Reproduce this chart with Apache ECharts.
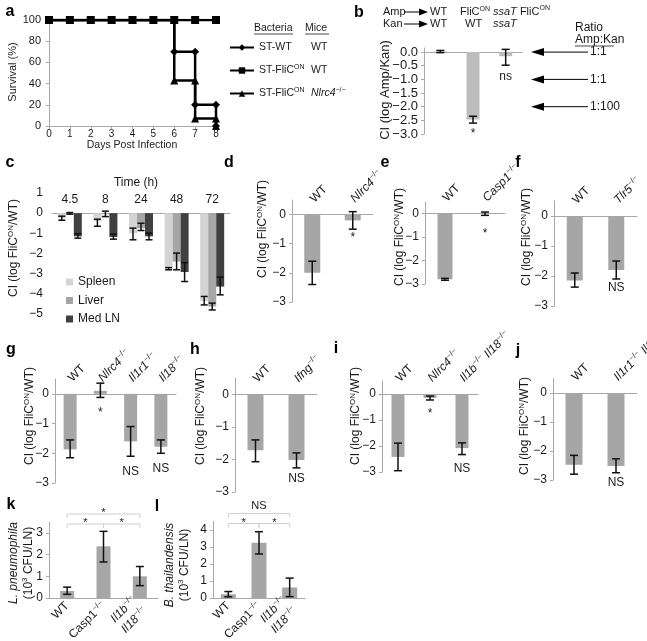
<!DOCTYPE html>
<html>
<head>
<meta charset="utf-8">
<script src="https://cdn.jsdelivr.net/npm/echarts@6/dist/echarts.min.js"></script>
<style>
html, body { margin: 0; padding: 0; background: #fff; }
#fig { width: 647px; height: 641px; }
</style>
</head>
<body>
<div id="fig"></div>
<script>
// ---------- data ----------
// a: survival (%), step curves as [day, %] points
const aWT_x = [0, 1, 2, 3, 4, 5, 6, 6, 7, 7, 8, 8];
const aWT_y = [100, 100, 100, 100, 100, 100, 100, 70, 70, 20, 20, 0];
const aOn_x = [0, 1, 2, 3, 4, 5, 6, 7, 8];
const aOn_y = [100, 100, 100, 100, 100, 100, 100, 100, 100];
const aNl_x = [0, 1, 2, 3, 4, 5, 6, 6, 7, 7, 8, 8];
const aNl_y = [100, 100, 100, 100, 100, 100, 100, 43, 43, 7, 7, 0];
const aBact = ['ST-WT', 'ST-FliC', 'ST-FliC'];
const aMice = ['WT', 'WT', 'Nlrc4'];

// b: CI (log Amp/Kan)
const bAmp = ['WT', 'FliC^[ON]', '_ssaT_ FliC^[ON]'];
const bKan = ['WT', 'WT', '_ssaT_'];
const bMean = [0.02, -2.47, -0.15];
const bLow = [-0.02, -2.6, -0.48];
const bHigh = [0.06, -2.35, 0.1];
const bNote = ['', '*', 'ns'];
const bTicks = [0, -0.5, -1, -1.5, -2, -2.5, -3];
const bRatioAt = [0, -1, -2];
const bRatio = ['1:1', '1:1', '1:100'];

// c: time course per organ
const cTimes = ['4.5', '8', '24', '48', '72'];
const cSpleen = [-0.25, -0.4, -1.0, -2.75, -4.35];
const cSpleenLo = [-0.35, -0.65, -1.32, -2.81, -4.55];
const cSpleenHi = [-0.15, -0.3, -0.74, -2.7, -4.13];
const cLiver = [-0.02, -0.05, -0.75, -2.4, -4.63];
const cLiverLo = [-0.05, -0.17, -0.86, -2.81, -4.8];
const cLiverHi = [0.03, 0.1, -0.5, -1.98, -4.46];
const cLN = [-1.15, -1.18, -1.15, -2.92, -3.64];
const cLNLo = [-1.24, -1.29, -1.32, -3.39, -4.05];
const cLNHi = [-1.02, -1.04, -0.99, -2.45, -3.17];

// d - j: CI (log FliC-ON / WT)
const dCats = ['WT', '_Nlrc4_^[−/−]'];
const dMean = [-2.0, -0.2];
const dLow = [-2.4, -0.5];
const dHigh = [-1.6, 0.1];
const dNote = ['', '*'];

const eCats = ['WT', '_Casp1_^[−/−]'];
const eMean = [-2.8, 0.0];
const eLow = [-2.84, -0.07];
const eHigh = [-2.76, 0.07];
const eNote = ['', '*'];

const fCats = ['WT', '_Tlr5_^[−/−]'];
const fMean = [-2.15, -1.8];
const fLow = [-2.37, -2.1];
const fHigh = [-1.9, -1.5];
const fNote = ['', 'NS'];

const gCats = ['WT', '_Nlrc4_^[−/−]', '_Il1r1_^[−/−]', '_Il18_^[−/−]'];
const gMean = [-1.87, 0.1, -1.6, -1.78];
const gLow = [-2.15, -0.12, -2.1, -2.0];
const gHigh = [-1.55, 0.36, -1.1, -1.55];
const gNote = ['', '*', 'NS', 'NS'];

const hCats = ['WT', '_Ifng_^[−/−]'];
const hMean = [-1.72, -2.02];
const hLow = [-2.07, -2.26];
const hHigh = [-1.4, -1.8];
const hNote = ['', 'NS'];

const iCats = ['WT', '_Nlrc4_^[−/−]', '_Il1b_^[−/−] _Il18_^[−/−]'];
const iMean = [-2.42, -0.15, -2.08];
const iLow = [-2.95, -0.23, -2.33];
const iHigh = [-1.89, -0.08, -1.88];
const iNote = ['', '*', 'NS'];

const jCats = ['WT', '_Il1r1_^[−/−] _Il18_^[−/−]'];
const jMean = [-2.47, -2.52];
const jLow = [-2.8, -2.75];
const jHigh = [-2.15, -2.27];
const jNote = ['', 'NS'];

const ciTicks = [0, -1, -2, -3];

// k, l: bacterial burden (10^3 CFU/LN)
const klCats = ['WT', 'Casp1^[−/−]', '_Il1b_^[−/−]\n_Il18_^[−/−]'];
const kMean = [0.32, 2.38, 1.0];
const kLow = [0.17, 1.66, 0.57];
const kHigh = [0.5, 3.07, 1.45];
const kTicks = [0, 1, 2, 3];
const kSig = [[0, 2, '*', 1], [0, 1, '*', 0], [1, 2, '*', 0]];
const lMean = [0.22, 3.25, 0.62];
const lLow = [0.07, 2.59, 0.08];
const lHigh = [0.38, 3.9, 1.17];
const lTicks = [0, 1, 2, 3, 4];
const lSig = [[0, 2, 'NS', 1], [0, 1, '*', 0], [1, 2, '*', 0]];

// ---------- helpers ----------
const FONT = '"Liberation Sans", Arial, sans-serif';
const INK = '#1a1a1a';
const AX = '#a8a8a8';
const BAR = '#a6a6a6';

// _x_ -> italic, ^[x] -> superscript
function mk(s) {
  return s.replace(/_([^_]+)_/g, '{i|$1}').replace(/\^\[([^\]]+)\]/g, '{s|$1}');
}
function minus(v) { return String(v).replace('-', '\u2212'); }

function RICH(fs) {
  return {
    i: { fontStyle: 'italic', fontSize: fs, fontFamily: FONT, color: INK, lineHeight: fs + 3 },
    s: { fontSize: Math.round(fs * 0.66), fontFamily: FONT, color: INK, verticalAlign: 'top' }
  };
}
function GRICH(fs) {
  return {
    i: { fontStyle: 'italic', fontSize: fs, fontFamily: FONT, fill: INK, lineHeight: fs + 3 },
    s: { fontSize: Math.round(fs * 0.66), fontFamily: FONT, fill: INK, verticalAlign: 'top' }
  };
}

const grids = [], xAxes = [], yAxes = [], series = [], graphics = [];

function addGrid(g) {
  grids.push(Object.assign({ containLabel: false, outerBoundsMode: 'none' }, g));
  return grids.length - 1;
}
function valAxis(gi, min, max, ticks, fs, extra) {
  return Object.assign({
    type: 'value', gridIndex: gi, min: min, max: max,
    splitLine: { show: false },
    axisLine: { show: true, lineStyle: { color: AX, width: 1 } },
    axisTick: { show: true, length: 3, lineStyle: { color: AX }, customValues: ticks },
    axisLabel: { customValues: ticks, fontSize: fs, fontFamily: FONT, color: INK, margin: 6, formatter: minus }
  }, extra || {});
}
// category axis on the zero line; slanted labels sit just above it
function catTop(gi, cats, zeroDrop) {
  return {
    type: 'category', gridIndex: gi, position: 'top', data: cats,
    axisLine: { onZero: true, lineStyle: { color: AX } },
    axisTick: { show: false },
    axisLabel: { interval: 0, rotate: 45, margin: 14 - zeroDrop, fontSize: 12, fontFamily: FONT, color: INK,
      lineHeight: 15, rich: RICH(12), formatter: v => mk(v) }
  };
}
function vname(x, y, text, fs) {
  return {
    type: 'text', x: x, y: y, rotation: Math.PI / 2,
    style: { text: mk(text), fontSize: fs || 12, fontFamily: FONT, fill: INK, align: 'center',
      verticalAlign: 'middle', lineHeight: 15, rich: GRICH(fs || 12) }
  };
}
function letter(x, y, t) {
  return { type: 'text', x: x, y: y, style: { text: t, font: 'bold 16px ' + FONT, fill: '#000', align: 'center', verticalAlign: 'middle' } };
}
function plain(x, y, t, fs, align) {
  return { type: 'text', x: x, y: y, style: { text: mk(t), fontSize: fs, fontFamily: FONT, fill: INK,
    align: align || 'left', verticalAlign: 'middle', lineHeight: fs + 2, rich: GRICH(fs) } };
}

function errBar(offset, cap, notes, gap) {
  return function (params, api) {
    const i = api.value(0);
    const hi = api.coord([i, api.value(2)]);
    const lo = api.coord([i, api.value(1)]);
    const x = hi[0] + offset;
    const st = { stroke: '#111', lineWidth: 1.5 };
    const kids = [
      { type: 'line', shape: { x1: x, y1: hi[1], x2: x, y2: lo[1] }, style: st },
      { type: 'line', shape: { x1: x - cap, y1: hi[1], x2: x + cap, y2: hi[1] }, style: st },
      { type: 'line', shape: { x1: x - cap, y1: lo[1], x2: x + cap, y2: lo[1] }, style: st }
    ];
    const note = notes ? notes[params.dataIndex] : '';
    if (note) {
      const bottom = Math.max(lo[1], hi[1]);
      kids.push({ type: 'text', x: x, y: bottom + gap,
        style: { text: note, align: 'center', verticalAlign: 'top', font: '12px ' + FONT, fill: INK } });
    }
    return { type: 'group', children: kids };
  };
}
function errSeries(gi, n, lo, hi, offset, cap, notes, gap) {
  const data = [];
  for (let i = 0; i < n; i++) data.push([i, lo[i], hi[i]]);
  return { type: 'custom', xAxisIndex: gi, yAxisIndex: gi, data: data, z: 5, silent: true,
    renderItem: errBar(offset, cap, notes, gap) };
}

function sigRender(list) {
  return function (params, api) {
    const d = list[params.dataIndex];
    const cs = params.coordSys;
    const x1 = api.coord([d[0], 0])[0], x2 = api.coord([d[1], 0])[0];
    const y = d[3] ? cs.y - 8 : cs.y + 2;
    const star = d[2] === '*';
    return { type: 'group', children: [
      { type: 'polyline', shape: { points: [[x1, y + 4], [x1, y], [x2, y], [x2, y + 4]] },
        style: { stroke: '#cfcfcf', lineWidth: 1, fill: null } },
      { type: 'text', x: (x1 + x2) / 2, y: star ? y - 1 : y - 2,
        style: { text: d[2], align: 'center', verticalAlign: star ? 'middle' : 'bottom', font: '11px ' + FONT, fill: INK } }
    ] };
  };
}

// ---------- panel a ----------
const gA = addGrid({ left: 49, top: 20, width: 167, height: 106 });
xAxes.push({ type: 'value', gridIndex: gA, min: 0, max: 8, interval: 1, splitLine: { show: false },
  axisLine: { lineStyle: { color: AX } }, axisTick: { show: true, length: 3, lineStyle: { color: AX } },
  axisLabel: { fontSize: 10, fontFamily: FONT, color: INK, margin: 3 } });
yAxes.push({ type: 'value', gridIndex: gA, min: 0, max: 100, interval: 20, splitLine: { show: false },
  axisLine: { show: true, lineStyle: { color: AX } }, axisTick: { show: true, length: 3, lineStyle: { color: AX } },
  axisLabel: { fontSize: 11, fontFamily: FONT, color: INK, margin: 8 } });
const zip = (xs, ys) => xs.map((x, i) => [x, ys[i]]);
const aNames = ['a0', 'a1', 'a2'];
const aLine = { color: '#000', width: 2.5 };
series.push({ name: aNames[0], type: 'line', xAxisIndex: gA, yAxisIndex: gA, data: zip(aWT_x, aWT_y),
  symbol: 'diamond', symbolSize: 8, showAllSymbol: true, lineStyle: aLine, itemStyle: { color: '#000' }, z: 3 });
series.push({ name: aNames[2], type: 'line', xAxisIndex: gA, yAxisIndex: gA, data: zip(aNl_x, aNl_y),
  symbol: 'triangle', symbolSize: 8, showAllSymbol: true, lineStyle: aLine, itemStyle: { color: '#000' }, z: 3 });
series.push({ name: aNames[1], type: 'line', xAxisIndex: gA, yAxisIndex: gA, data: zip(aOn_x, aOn_y),
  symbol: 'rect', symbolSize: 8, showAllSymbol: true, lineStyle: aLine, itemStyle: { color: '#000' }, z: 4 });
graphics.push(letter(10, 12, 'a'));
graphics.push(vname(13, 72, 'Survival (%)', 11));
graphics.push(plain(132, 145, 'Days Post Infection', 10.5, 'center'));
graphics.push(plain(254, 28, 'Bacteria', 10.5));
graphics.push(plain(305, 28, 'Mice', 10.5));
graphics.push({ type: 'line', shape: { x1: 254, y1: 34, x2: 293, y2: 34 }, style: { stroke: INK, lineWidth: 0.8 } });
graphics.push({ type: 'line', shape: { x1: 305, y1: 34, x2: 329, y2: 34 }, style: { stroke: INK, lineWidth: 0.8 } });

// ---------- panel b ----------
const gB = addGrid({ left: 424, top: 48, width: 98, height: 86 });
xAxes.push({ type: 'category', gridIndex: gB, position: 'top', data: bAmp,
  axisLine: { onZero: true, lineStyle: { color: AX } }, axisTick: { show: false }, axisLabel: { show: false } });
yAxes.push(valAxis(gB, -3, 0.15, bTicks, 13, { axisLabel: { customValues: bTicks, fontSize: 13, fontFamily: FONT,
  color: INK, margin: 6, formatter: v => minus(v.toFixed(1)) } }));
series.push({ type: 'bar', xAxisIndex: gB, yAxisIndex: gB, data: bMean, barWidth: 13,
  itemStyle: { color: '#bdbdbd' }, silent: true });
series.push(errSeries(gB, 3, bLow, bHigh, 0, 4, bNote, 5));
series.push({ type: 'custom', xAxisIndex: gB, yAxisIndex: gB, data: bRatioAt.map(v => [0, v]), silent: true,
  renderItem: function (params, api) {
    const cs = params.coordSys;
    const y = api.coord([0, api.value(1)])[1];
    const x0 = cs.x + cs.width + 9;
    return { type: 'group', children: [
      { type: 'polygon', shape: { points: [[x0, y], [x0 + 13, y - 4], [x0 + 13, y + 4]] }, style: { fill: '#000' } },
      { type: 'line', shape: { x1: x0 + 13, y1: y, x2: x0 + 57, y2: y }, style: { stroke: '#000', lineWidth: 1 } },
      { type: 'text', x: x0 + 59, y: y, style: { text: bRatio[params.dataIndex], align: 'left',
        verticalAlign: 'middle', font: '12px ' + FONT, fill: INK } }
    ] };
  } });
graphics.push(letter(359, 13, 'b'));
graphics.push(vname(385, 90, 'CI (log Amp/Kan)', 13));
graphics.push(plain(383, 12, 'Amp', 11));
graphics.push(plain(383, 24, 'Kan', 11));
[12, 24].forEach(y => {
  graphics.push({ type: 'line', shape: { x1: 404, y1: y, x2: 420, y2: y }, style: { stroke: '#000', lineWidth: 1 } });
  graphics.push({ type: 'polygon', shape: { points: [[428, y], [419, y - 3.5], [419, y + 3.5]] }, style: { fill: '#000' } });
});
// genotype header rows over the three bars
const bRowX = [430, 460, 493];
bAmp.forEach((t, k) => graphics.push(plain(bRowX[k], 12, t, 11, 'left')));
const bRow2X = [430, 465, 493];
bKan.forEach((t, k) => graphics.push(plain(bRow2X[k], 24, t, 11, 'left')));
graphics.push(plain(575, 28, 'Ratio', 12));
graphics.push(plain(575, 40, 'Amp:Kan', 12));
graphics.push({ type: 'line', shape: { x1: 575, y1: 46, x2: 614, y2: 46 }, style: { stroke: INK, lineWidth: 0.8 } });

// ---------- panel c ----------
const gC = addGrid({ left: 52, top: 193, width: 178, height: 121 });
xAxes.push({ type: 'category', gridIndex: gC, position: 'top', data: cTimes, offset: -121 / 6,
  axisLine: { onZero: false, lineStyle: { color: AX } }, axisTick: { show: false },
  axisLabel: { interval: 0, margin: 7, align: 'center', verticalAlign: 'bottom', fontSize: 12, fontFamily: FONT, color: INK } });
yAxes.push({ type: 'value', gridIndex: gC, min: -5, max: 1, interval: 1, splitLine: { show: false },
  axisLine: { show: false }, axisTick: { show: false },
  axisLabel: { fontSize: 12, fontFamily: FONT, color: INK, margin: 9, formatter: minus } });
const cCols = ['#d4d4d4', '#a6a6a6', '#404040'];
const cNames = ['Spleen', 'Liver', 'Med LN'];
[cSpleen, cLiver, cLN].forEach((d, k) => {
  series.push({ name: cNames[k], type: 'bar', xAxisIndex: gC, yAxisIndex: gC, data: d, barWidth: 8,
    barGap: '0%', itemStyle: { color: cCols[k] }, silent: true });
});
series.push(errSeries(gC, 5, cSpleenLo, cSpleenHi, -8, 3.5, null, 0));
series.push(errSeries(gC, 5, cLiverLo, cLiverHi, 0, 3.5, null, 0));
series.push(errSeries(gC, 5, cLNLo, cLNHi, 8, 3.5, null, 0));
graphics.push(letter(10, 163, 'c'));
graphics.push(plain(136, 183, 'Time (h)', 12, 'center'));
graphics.push(vname(14, 248, 'CI (log FliC^[ON]/WT)'));

// ---------- panels d - j ----------
const ciPanels = [
  { L: 'd', at: [229, 163], grid: { left: 292, top: 200, width: 81, height: 102 }, cats: dCats, mean: dMean, lo: dLow, hi: dHigh, note: dNote, bw: 16, gap: 3, name: [263, 229] },
  { L: 'e', at: [385, 163], grid: { left: 425, top: 202, width: 80, height: 82 }, cats: eCats, mean: eMean, lo: eLow, hi: eHigh, note: eNote, bw: 15, gap: 12, name: [400, 237] },
  { L: 'f', at: [518, 163], grid: { left: 554, top: 201, width: 83, height: 105 }, cats: fCats, mean: fMean, lo: fLow, hi: fHigh, note: fNote, bw: 16, gap: 3, name: [527, 237] },
  { L: 'g', at: [11, 350], grid: { left: 55, top: 379, width: 121, height: 104 }, cats: gCats, mean: gMean, lo: gLow, hi: gHigh, note: gNote, bw: 13, gap: 9, name: [30, 416] },
  { L: 'h', at: [195, 350], grid: { left: 235, top: 378, width: 82, height: 114 }, cats: hCats, mean: hMean, lo: hLow, hi: hHigh, note: hNote, bw: 16, gap: 5, name: [201, 416] },
  { L: 'i', at: [336, 349], grid: { left: 382, top: 381, width: 96, height: 91 }, cats: iCats, mean: iMean, lo: iLow, hi: iHigh, note: iNote, bw: 13, gap: 8, name: [356, 416] },
  { L: 'j', at: [518, 351], grid: { left: 553, top: 378.5, width: 84, height: 101.5 }, cats: jCats, mean: jMean, lo: jLow, hi: jHigh, note: jNote, bw: 17, gap: 4, name: [525, 426] }
];
ciPanels.forEach(p => {
  const gi = addGrid(p.grid);
  xAxes.push(catTop(gi, p.cats, p.grid.height / 3.5 * 0.5));
  yAxes.push(valAxis(gi, -3, 0.5, ciTicks, 12));
  series.push({ type: 'bar', xAxisIndex: gi, yAxisIndex: gi, data: p.mean, barWidth: p.bw,
    itemStyle: { color: BAR }, silent: true });
  series.push(errSeries(gi, p.cats.length, p.lo, p.hi, 0, 4, p.note, p.gap));
  graphics.push(letter(p.at[0], p.at[1], p.L));
  graphics.push(vname(p.name[0], p.name[1], 'CI (log FliC^[ON]/WT)'));
});

// ---------- panels k, l ----------
const klPanels = [
  { L: 'k', at: [11, 505], grid: { left: 49, top: 522, width: 109, height: 76 }, max: 3.5, ticks: kTicks, mean: kMean, lo: kLow, hi: kHigh, sig: kSig, bw: 14, name: [21, 563], org: '_L. pneumophila_' },
  { L: 'l', at: [157, 507], grid: { left: 213, top: 521.5, width: 92, height: 76.5 }, max: 4.5, ticks: lTicks, mean: lMean, lo: lLow, hi: lHigh, sig: lSig, bw: 15, name: [177, 565], org: '_B. thailandensis_' }
];
klPanels.forEach(p => {
  const gi = addGrid(p.grid);
  xAxes.push({ type: 'category', gridIndex: gi, data: klCats, position: 'bottom',
    axisLine: { lineStyle: { color: AX } }, axisTick: { show: false },
    axisLabel: { interval: 0, rotate: 45, margin: 6, fontSize: 12, fontFamily: FONT, color: INK,
      lineHeight: 14, rich: RICH(12), formatter: v => mk(v) } });
  yAxes.push(valAxis(gi, 0, p.max, p.ticks, 12));
  series.push({ type: 'bar', xAxisIndex: gi, yAxisIndex: gi, data: p.mean, barWidth: p.bw,
    itemStyle: { color: BAR }, silent: true });
  series.push(errSeries(gi, 3, p.lo, p.hi, 0, 4, null, 0));
  series.push({ type: 'custom', xAxisIndex: gi, yAxisIndex: gi, data: p.sig.map(d => [d[0], 0]),
    silent: true, renderItem: sigRender(p.sig) });
  graphics.push(letter(p.at[0], p.at[1], p.L));
  graphics.push(vname(p.name[0], p.name[1], p.org + '\n(10^[3] CFU/LN)'));
});

// ---------- legends ----------
const aLegendRich = {
  w: { width: 52, fontSize: 10.5, fontFamily: FONT, color: INK, lineHeight: 13 },
  f: { fontSize: 10.5, fontFamily: FONT, color: INK, lineHeight: 13 },
  fs: { width: 17, fontSize: 7, fontFamily: FONT, color: INK, verticalAlign: 'top' },
  m: { fontSize: 10.5, fontFamily: FONT, color: INK, lineHeight: 13 },
  mi: { fontSize: 10.5, fontStyle: 'italic', fontFamily: FONT, color: INK, lineHeight: 13 },
  ms: { fontSize: 7, fontFamily: FONT, color: INK, verticalAlign: 'top' }
};
function aLegendFmt(name) {
  const k = aNames.indexOf(name);
  const b = k === 0 ? '{w|' + aBact[k] + '}' : '{f|' + aBact[k] + '}{fs|ON}';
  const m = k === 2 ? '{mi|' + aMice[k] + '}{ms|−/−}' : '{m|' + aMice[k] + '}';
  return b + m;
}

const chart = echarts.init(document.getElementById('fig'), null, { renderer: 'canvas' });
chart.setOption({
  animation: false,
  backgroundColor: '#fff',
  textStyle: { fontFamily: FONT },
  grid: grids,
  xAxis: xAxes,
  yAxis: yAxes,
  legend: [
    { data: aNames, orient: 'vertical', left: 224, top: 37, itemWidth: 24, itemHeight: 8, itemGap: 11,
      selectedMode: false, formatter: aLegendFmt, textStyle: { fontSize: 10.5, color: INK, rich: aLegendRich } },
    { data: cNames, orient: 'vertical', left: 61, top: 271, icon: 'rect', itemWidth: 7, itemHeight: 7,
      itemGap: 6.5, selectedMode: false, textStyle: { fontSize: 12, fontFamily: FONT, color: INK } }
  ],
  series: series,
  graphic: graphics
});
</script>
</body>
</html>
